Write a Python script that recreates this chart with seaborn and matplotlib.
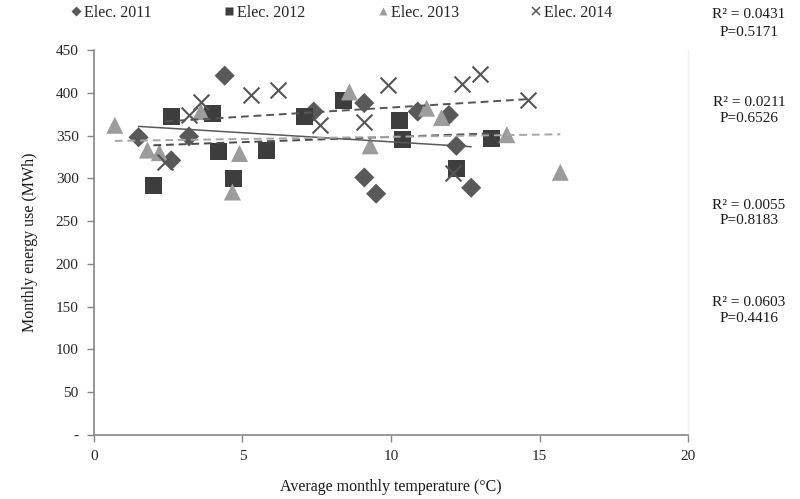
import numpy as np
import pandas as pd
import seaborn as sns
import matplotlib
matplotlib.use("Agg")
import matplotlib.pyplot as plt
from matplotlib.lines import Line2D

# Average monthly temperature (°C) and monthly electricity use (MWh) per year
temp_2011 = [1.5, 2.6, 3.2, 4.4, 7.4, 9.1, 9.1, 9.5, 10.9, 11.95, 12.2, 12.7]
elec_2011 = [348, 321, 349, 420, 378, 388, 301, 282, 378, 374, 338, 289]

temp_2012 = [2.0, 2.6, 4.0, 4.2, 4.7, 5.8, 7.1, 8.4, 10.3, 10.4, 12.2, 13.4]
elec_2012 = [292, 372, 376, 331, 300, 332, 372, 391, 368, 345, 312, 347]

temp_2013 = [0.7, 1.8, 2.2, 3.6, 4.66, 4.9, 8.6, 9.3, 11.2, 11.7, 13.9, 15.7]
elec_2013 = [362, 333, 330, 378, 284, 329, 401, 338, 382, 371, 351, 307]

temp_2014 = [2.4, 3.2, 3.6, 5.3, 6.2, 7.6, 9.1, 9.9, 12.1, 12.4, 13.0, 14.6]
elec_2014 = [319, 374, 389, 397, 403, 362, 366, 409, 306, 410, 422, 392]

series_names = ["Elec. 2011", "Elec. 2012", "Elec. 2013", "Elec. 2014"]
fit_labels = [("R\u00b2 = 0.0431", "P=0.5171"),
              ("R\u00b2 = 0.0211", "P=0.6526"),
              ("R\u00b2 = 0.0055", "P=0.8183"),
              ("R\u00b2 = 0.0603", "P=0.4416")]

y_ticks = [0, 50, 100, 150, 200, 250, 300, 350, 400, 450]
y_tick_labels = ["-", "50", "100", "150", "200", "250", "300", "350", "400", "450"]
x_ticks = [0, 5, 10, 15, 20]

sns.set_theme(style="white")
plt.rcParams["font.family"] = ["Liberation Serif", "DejaVu Serif"]

fig = plt.figure(figsize=(8.0, 4.99), dpi=100)
ax = fig.add_axes([0.1175, 0.1283, 0.8600 - 0.1175, 0.8998 - 0.1283])

temps = [temp_2011, temp_2012, temp_2013, temp_2014]
elecs = [elec_2011, elec_2012, elec_2013, elec_2014]
markers = ["D", "s", "^", "x"]
sizes = [105, 150, 150, 130]
colors = ["#595959", "#3d3d3d", "#9c9c9c", "#555555"]
line_colors = ["#595959", "#4a4a4a", "#a6a6a6", "#555555"]
line_styles = ["-", (0, (4, 2.5)), (0, (4, 2.5)), (0, (4, 2.5))]
line_widths = [1.1, 1.4, 1.4, 1.4]

frames = []
for name, t, e in zip(series_names, temps, elecs):
    frames.append(pd.DataFrame({"temp": t, "elec": e, "series": name}))
df = pd.concat(frames, ignore_index=True)

for i, name in enumerate(series_names):
    sub = df[df["series"] == name]
    if markers[i] == "x":
        sns.scatterplot(data=sub, x="temp", y="elec", ax=ax, marker="x",
                        s=sizes[i], color=colors[i], linewidth=1.5,
                        legend=False, zorder=3)
    else:
        sns.scatterplot(data=sub, x="temp", y="elec", ax=ax, marker=markers[i],
                        s=sizes[i], color=colors[i], edgecolor="none",
                        legend=False, zorder=3)

for i, name in enumerate(series_names):
    sub = df[df["series"] == name]
    sns.regplot(data=sub, x="temp", y="elec", ax=ax, scatter=False, ci=None,
                truncate=True,
                line_kws={"color": line_colors[i], "ls": line_styles[i],
                          "lw": line_widths[i], "zorder": 4})

ax.set_xlim(0, 20)
ax.set_ylim(0, 450)
ax.set_xticks(x_ticks)
ax.set_xticklabels([str(v) for v in x_ticks])
ax.set_yticks(y_ticks)
ax.set_yticklabels(y_tick_labels)
ax.set_xlabel("Average monthly temperature (\u00b0C)", fontsize=11.5,
              color="#1a1a1a", labelpad=11)
ax.set_ylabel("Monthly energy use (MWh)", fontsize=11.5, color="#1a1a1a",
              labelpad=13)
ax.tick_params(axis="both", which="both", direction="out", length=5,
               width=1, color="#868686", labelsize=11, labelcolor="#262626",
               bottom=True, left=True)
ax.tick_params(axis="x", pad=6)
ax.tick_params(axis="y", pad=6)
ax.grid(False)
for side in ["left", "bottom"]:
    ax.spines[side].set_color("#868686")
    ax.spines[side].set_linewidth(1.2)
ax.spines["top"].set_visible(False)
ax.spines["right"].set_color("#f0f0f0")
ax.spines["right"].set_linewidth(1.0)

# Legend across the top
handles = []
for i, name in enumerate(series_names):
    if markers[i] == "x":
        h = Line2D([], [], ls="none", marker="x", markersize=6,
                   markeredgecolor=colors[i], markeredgewidth=1.1)
    else:
        h = Line2D([], [], ls="none", marker=markers[i],
                   markersize=5 if markers[i] == "D" else 6,
                   markerfacecolor=colors[i], markeredgecolor="none")
    handles.append(h)
fig.legend(handles, series_names, loc="center left",
           bbox_to_anchor=(72 / 800, 1 - 13 / 499), ncol=4, frameon=False,
           fontsize=11.5, handlelength=0.5, handletextpad=0.25,
           columnspacing=4.6, borderpad=0, borderaxespad=0)

# Fit statistics on the right
fit_y = [(15, 32), (103, 118), (205, 220), (303, 318)]
for (r_txt, p_txt), (yr, yp) in zip(fit_labels, fit_y):
    fig.text(749 / 800, 1 - yr / 499, r_txt, ha="center", va="center",
             fontsize=11, color="#1a1a1a")
    fig.text(749 / 800, 1 - yp / 499, p_txt, ha="center", va="center",
             fontsize=11, color="#1a1a1a")

fig.savefig("out.png", dpi=100)
